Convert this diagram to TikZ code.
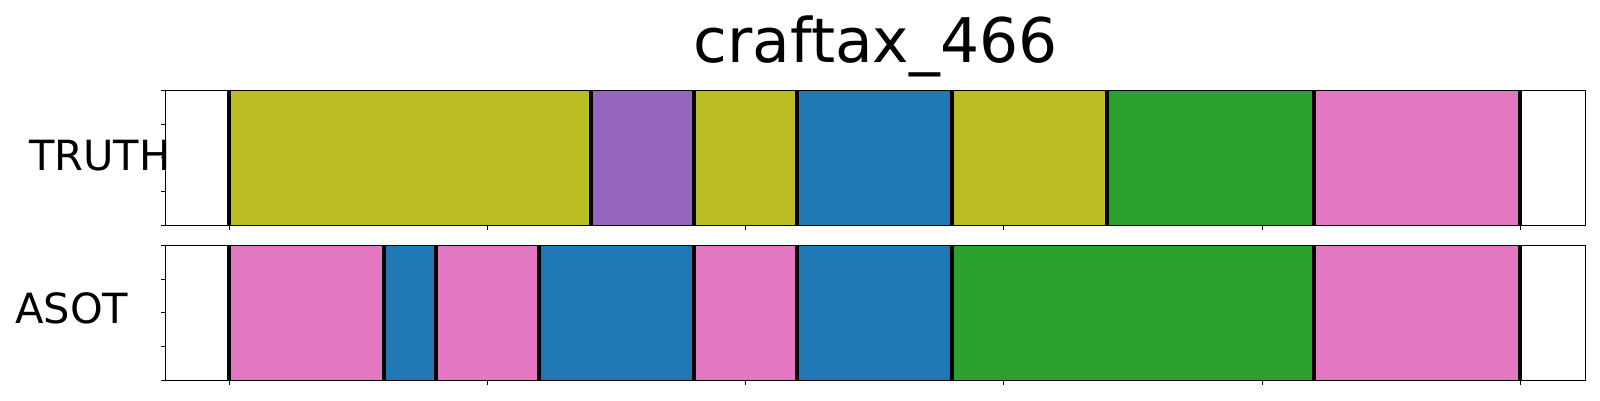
\documentclass[tikz,border=0pt]{standalone}
\usepackage{fontspec}
\setmainfont{DejaVu Sans}
\definecolor{segolive}{HTML}{BCBD22}
\definecolor{segpurple}{HTML}{9467BD}
\definecolor{segblue}{HTML}{1F77B4}
\definecolor{seggreen}{HTML}{2CA02C}
\definecolor{segpink}{HTML}{E377C2}
\tikzset{
  seg/.style={fill=#1, draw=#1!80!black, line width=0.8pt},
  bound/.style={line width=4pt, black},
  frame/.style={line width=1pt, black},
  tick/.style={line width=0.9pt, black},
  lab/.style={inner sep=0pt, font=\fontsize{41.6}{50}\selectfont},
}
\begin{document}
\begin{tikzpicture}[x=1pt,y=-1pt]
\useasboundingbox (0,0) rectangle (1600,400);
% panels: top 90.3-225.3, bottom 245.3-380.3
\foreach \a/\b/\c in {229.3/591/segolive, 591/694/segpurple, 694/797/segolive, 797/952/segblue, 952/1107/segolive, 1107/1313.7/seggreen, 1313.7/1520.3/segpink}
  \path[seg=\c] (\a,90.3) rectangle (\b,225.3);
\foreach \a/\b/\c in {229.3/383.7/segpink, 383.7/435.7/segblue, 435.7/538.7/segpink, 538.7/694/segblue, 694/797/segpink, 797/952/segblue, 952/1313.7/seggreen, 1313.7/1520.3/segpink}
  \path[seg=\c] (\a,245.3) rectangle (\b,380.3);
\foreach \x in {229.3,591,694,797,952,1107,1313.7,1520.3}
  \draw[bound] (\x,90.3) -- (\x,225.3);
\foreach \x in {229.3,383.7,435.7,538.7,694,797,952,1313.7,1520.3}
  \draw[bound] (\x,245.3) -- (\x,380.3);
\draw[frame] (165.7,90.3) rectangle (1585.3,225.3);
\draw[frame] (165.7,245.3) rectangle (1585.3,380.3);
\foreach \t in {0,1,2,3,4} {
  \draw[tick] (165.7,90.3+33.75*\t) -- (160.7,90.3+33.75*\t);
  \draw[tick] (165.7,245.3+33.75*\t) -- (160.7,245.3+33.75*\t);
}
\foreach \t in {0,...,5} {
  \draw[tick] (229.3+258.2*\t,225.3) -- (229.3+258.2*\t,230.3);
  \draw[tick] (229.3+258.2*\t,380.3) -- (229.3+258.2*\t,385.3);
}
\node[lab, anchor=base west] (truth) at (29,170) {TRUTH};
\node[lab, anchor=base west] (asot) at (15,323.3) {ASOT};
\node[inner sep=0pt, anchor=base, font=\fontsize{61.5}{74}\selectfont] (title) at (875.5,62.3) {craftax\_466};
\end{tikzpicture}
\end{document}
